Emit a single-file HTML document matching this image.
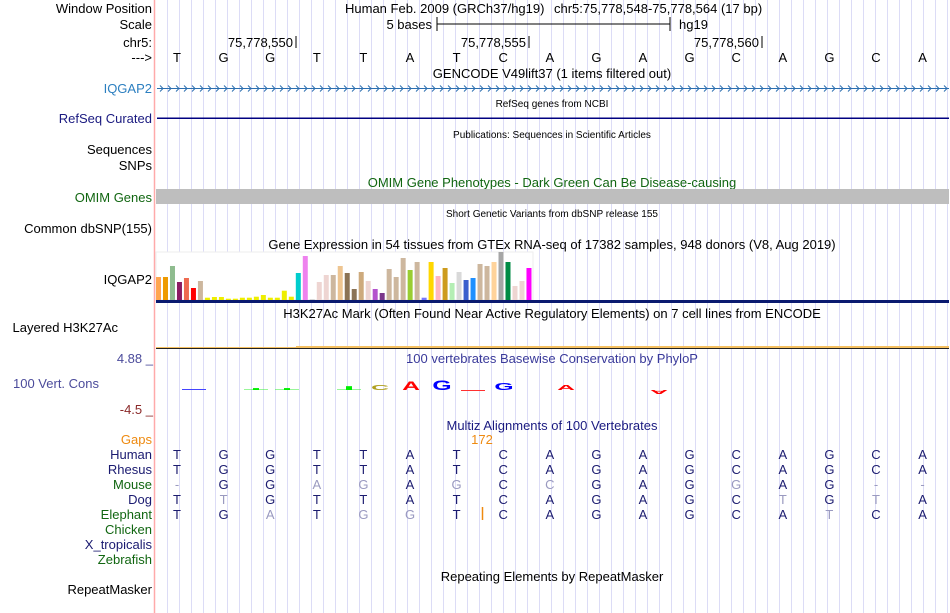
<!DOCTYPE html>
<html><head><meta charset="utf-8"><style>
html,body{margin:0;padding:0;background:#fff}
svg{display:block;font-family:"Liberation Sans",sans-serif}
</style></head><body>
<svg id="s" width="950" height="613" viewBox="0 0 950 613" xmlns="http://www.w3.org/2000/svg">
<g id="grid"></g>
<line x1="154.5" y1="0" x2="154.5" y2="613" stroke="#ffaaaa" stroke-width="1.5"/>
<g font-size="13" text-anchor="end">
<text x="152" y="13" fill="#000">Window Position</text>
<text x="152" y="29" fill="#000">Scale</text>
<text x="152" y="47" fill="#000">chr5:</text>
<text x="152" y="62" fill="#000">---&gt;</text>
<text x="152" y="93" fill="#2c7fc0">IQGAP2</text>
<text x="152" y="123" fill="#1a1a80">RefSeq Curated</text>
<text x="152" y="154" fill="#000">Sequences</text>
<text x="152" y="170" fill="#000">SNPs</text>
<text x="152" y="202" fill="#116611">OMIM Genes</text>
<text x="152" y="233" fill="#000">Common dbSNP(155)</text>
<text x="152" y="284" fill="#000">IQGAP2</text>
<text x="118" y="332" fill="#000">Layered H3K27Ac</text>
<text x="153" y="363" fill="#4b4b9b">4.88 _</text>
<text x="99" y="388" fill="#4b4b9b">100 Vert. Cons</text>
<text x="153" y="414" fill="#8b2a2a">-4.5 _</text>
<text x="152" y="444" fill="#ee8a10">Gaps</text>
<text x="152" y="459" fill="#1a1a70">Human</text>
<text x="152" y="474" fill="#1a1a70">Rhesus</text>
<text x="152" y="489" fill="#116611">Mouse</text>
<text x="152" y="504" fill="#1a1a70">Dog</text>
<text x="152" y="519" fill="#116611">Elephant</text>
<text x="152" y="534" fill="#116611">Chicken</text>
<text x="152" y="549" fill="#1a1a70">X_tropicalis</text>
<text x="152" y="564" fill="#116611">Zebrafish</text>
<text x="152" y="594" fill="#000">RepeatMasker</text>
</g>
<g font-size="13" fill="#000">
<text x="345" y="13">Human Feb. 2009 (GRCh37/hg19)</text>
<text x="554" y="13">chr5:75,778,548-75,778,564 (17 bp)</text>
<text x="432" y="29" text-anchor="end">5 bases</text>
<line x1="437" y1="24" x2="670" y2="24" stroke="#000"/>
<line x1="437" y1="17" x2="437" y2="31" stroke="#000"/>
<line x1="670" y1="17" x2="670" y2="31" stroke="#000"/>
<text x="679" y="29">hg19</text>
<text x="293" y="47" text-anchor="end">75,778,550</text>
<line x1="296" y1="36" x2="296" y2="48" stroke="#000"/>
<text x="526" y="47" text-anchor="end">75,778,555</text>
<line x1="529" y1="36" x2="529" y2="48" stroke="#000"/>
<text x="759" y="47" text-anchor="end">75,778,560</text>
<line x1="762" y1="36" x2="762" y2="48" stroke="#000"/>
<g id="bases" text-anchor="middle"></g>
</g>
<g font-size="13" text-anchor="middle">
<text x="552" y="78" fill="#000">GENCODE V49lift37 (1 items filtered out)</text>
<text x="552" y="107" fill="#000" font-size="10">RefSeq genes from NCBI</text>
<text x="552" y="138" fill="#000" font-size="10">Publications: Sequences in Scientific Articles</text>
<text x="552" y="187" fill="#116611">OMIM Gene Phenotypes - Dark Green Can Be Disease-causing</text>
<text x="552" y="217" fill="#000" font-size="10">Short Genetic Variants from dbSNP release 155</text>
<text x="552" y="249" fill="#000">Gene Expression in 54 tissues from GTEx RNA-seq of 17382 samples, 948 donors (V8, Aug 2019)</text>
<text x="552" y="318" fill="#000">H3K27Ac Mark (Often Found Near Active Regulatory Elements) on 7 cell lines from ENCODE</text>
<text x="552" y="363" fill="#3a3a9a">100 vertebrates Basewise Conservation by PhyloP</text>
<text x="552" y="430" fill="#1a1a80">Multiz Alignments of 100 Vertebrates</text>
<text x="482" y="444" fill="#ee8a10">172</text>
<text x="552" y="581" fill="#000">Repeating Elements by RepeatMasker</text>
</g>
<line x1="157" y1="88.5" x2="949" y2="88.5" stroke="#2c6fb0"/>
<g id="chev" stroke="#2c6fb0" fill="none" stroke-width="1"></g>
<rect x="157" y="117.5" width="792" height="1.5" fill="#000080"/>
<rect x="156" y="189" width="793" height="15" fill="#bebebe"/>
<rect x="156" y="252" width="377" height="48" fill="#fff" stroke="#eeeeee"/>
<g id="gtex"></g>
<rect x="156" y="300" width="793" height="3" fill="#0a1a70"/>
<rect x="156" y="347" width="140" height="1" fill="#f5c060"/>
<rect x="296" y="346" width="653" height="2" fill="#f5c060"/>
<rect x="156" y="348" width="793" height="1" fill="#222"/>
<g id="cons"></g>
<g id="aln" font-size="13" text-anchor="middle"></g>
<line x1="482.5" y1="507" x2="482.5" y2="520" stroke="#ee8a10" stroke-width="1.5"/>
</svg>
<script>
const refBases = "TGGTTATCAGAGCAGCA";
const mouseBases = "-GGAGAGCCGAGGAG--";
const dogBases = "TTGTTATCAGAGCTGTA";
const elephantBases = "TGATGGTCAGAGCATCA";
const mouseDiff = [0,0,0,1,1,0,1,0,1,0,0,0,1,0,0,0,0];
const dogDiff = [0,1,0,0,0,0,0,0,0,0,0,0,0,1,0,1,0];
const elephantDiff = [0,0,1,0,1,1,0,0,0,0,0,0,0,0,1,0,0];
const gtexColors = ["#FFA54F","#EE9A00","#8FBC8F","#8B1C62","#EE6A50","#FF0000","#CDB79E","#EEEE00","#EEEE00","#EEEE00","#EEEE00","#EEEE00","#EEEE00","#EEEE00","#EEEE00","#EEEE00","#EEEE00","#EEEE00","#EEEE00","#EEEE00","#00CDCD","#EE82EE","#D9D9D9","#EED5D2","#EED5D2","#CDB79E","#EEC591","#8B7355","#8B7355","#CDAA7D","#EED5D2","#B452CD","#7A378B","#CDB79E","#CDB79E","#CDB79E","#9ACD32","#CDB79E","#7777FF","#FFD700","#FFB6C1","#CD9B1D","#B4EEB4","#D9D9D9","#3A5FCD","#1E90FF","#CDB79E","#CDB79E","#FFD39B","#A6A6A6","#008B45","#EED5D2","#EED5D2","#FF00FF"];
const gtexValues = [23,23,34,18,22,12,19,2.3,3,3,1.3,1.3,2.3,2.3,3.3,5,2.3,2.3,9.3,3.3,27,44,1,18,25,25,34,27,11,28,19,11,7,31,23,42,30,38,2.3,38,24,32,17,28,20,22,36,34,38,48,38,14,19,32];
const gtexMax = 48;
const consSlot = [0,2,3,5,6,7,8,9,10,12,15];
const consBase = ["-","-","-","-","C","A","G","-","G","A","A"];
const consScore = [0.3,0.3,0.3,0.6,1.6,2.8,3.1,-0.6,2.2,1.6,-1.2];
const NS="http://www.w3.org/2000/svg";
function mk(t,a,p){const e=document.createElementNS(NS,t);for(const k in a)e.setAttribute(k,a[k]);p.appendChild(e);return e;}
const baseX = i => 177 + 46.6*i;
const grid=document.getElementById('grid');
for(let x=167;x<950;x+=12){const l=mk('line',{x1:x+.5,y1:0,x2:x+.5,y2:613,stroke:'#dcdcf6'},grid);

}
const bg=document.getElementById('bases');
for(let i=0;i<refBases.length;i++){const t=mk('text',{x:baseX(i),y:62},bg);t.textContent=refBases[i];

}
const ch=document.getElementById('chev');
for(let x=160;x<946;x+=8){const p=mk('path',{d:`M${x},85.5 L${x+3},88.5 L${x},91.5`},ch);

}
const g=document.getElementById('gtex');
const yG = v => 300 - v/gtexMax*48;
for(let i=0;i<gtexValues.length;i++){const r=mk('rect',{x:156+6.99*i,y:yG(gtexValues[i]),width:5,height:300-yG(gtexValues[i]),fill:gtexColors[i]},g);

}
const cg=document.getElementById('cons');
const colors={A:'#ff0000',C:'#b0a020',G:'#0000ff',T:'#00dd00'};
const yC = v => 390 - v*3.2;
const slotX = j => 194 + 31*j;
for(let k=0;k<consSlot.length;k++){
 const x=slotX(consSlot[k]), v=consScore[k], b=consBase[k];
 const h=Math.abs(yC(v)-390);
 if(b==='-'){
  let col='#33ee33', op=0.5;
  if(k===0){col='#4444ff';op=1;}
  if(v<0){col='#ff3030';op=1;}
  const r=mk('rect',{x:x-12,y:v<0?390:389,width:24,height:1,fill:col,opacity:op},cg);
  
  
  if(k>0 && v>0){const d=mk('rect',{x:x-3,y:390-h*2,width:6,height:h*2,fill:'#00ee00'},cg);
  
  }
  continue;}
 const s=Math.max(h,2)/9.4;
 const t=mk('text',{x:0,y:0,'font-size':13,'font-weight':'bold','text-anchor':'middle',fill:colors[b],
  transform:v>=0?`translate(${x},390) scale(1.9,${s})`:`translate(${x},390) scale(1.9,${-s})`},cg);
 t.textContent=b;
 
 
}
const ag=document.getElementById('aln');
const rows=[[refBases,null,459],[refBases,null,474],[mouseBases,mouseDiff,489],[dogBases,dogDiff,504],[elephantBases,elephantDiff,519]];
rows.forEach(r=>{for(let i=0;i<r[0].length;i++){const gray=r[1]&&r[1][i];const c=r[0][i];
 const t=mk('text',{x:baseX(i),y:r[2],fill:(gray||c==='-')?'#9a9ac0':'#1c1c70'},ag);t.textContent=c;
 
 }});
</script>
</body></html>
